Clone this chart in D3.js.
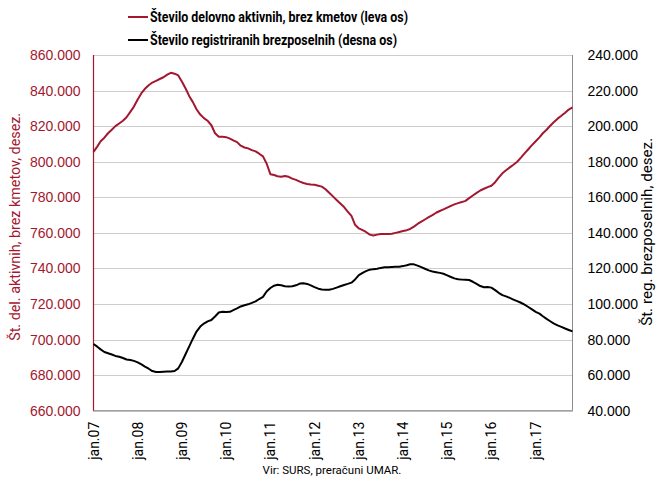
<!DOCTYPE html>
<html>
<head>
<meta charset="utf-8">
<script src="https://cdn.jsdelivr.net/npm/d3@7"></script>
<style>
  body { margin: 0; background: #fff; }
  svg { display: block; font-family: Roboto, "Noto Sans", sans-serif; }
</style>
</head>
<body>
<div id="chart"></div>
<script>
const W = 656, H = 481;
const margin = { top: 55, right: 83.5, bottom: 70.3, left: 93.5 },
    width = W - margin.left - margin.right,
    height = H - margin.top - margin.bottom;

const RED = "#a3172f";

// monthly, jan.07 .. nov.17
const startMonth = new Date(2007, 0, 1);

// Število delovno aktivnih, brez kmetov (thousands, left axis)
const aktivni = [
  805.5, 808.5, 811.5, 813.5, 816, 818, 820, 821.5, 823, 825, 828, 831,
  835, 838.5, 841, 843, 844.5, 845.5, 846.5, 847.5, 849, 850, 849.5, 848.5,
  845, 841, 837, 833.5, 829.5, 826.5, 824.5, 823, 820.5, 816, 814, 814,
  813.8, 813, 812, 811, 809, 808, 807.5, 806.5, 805.8, 804.5, 803, 799,
  793, 792.5, 791.8, 791.5, 792, 791.5, 790.5, 789.8, 788.8, 788, 787.5, 787.2,
  787, 786.5, 786, 784.5, 782.5, 780.5, 778.5, 776.5, 774.5, 772, 769.5, 764.5,
  762.5, 761.5, 760.5, 759, 758.5, 759, 759.3, 759.3, 759.4, 759.5, 760, 760.5,
  761, 761.5, 762.2, 763.5, 765, 766.3, 767.5, 768.8, 770, 771.3, 772.3, 773.2,
  774.2, 775.2, 776, 776.7, 777.3, 778, 779.5, 781, 782.5, 783.8, 784.8, 785.7,
  786.5, 788.5, 791, 793.5, 795.2, 796.8, 798.3, 800, 802.3, 804.7, 807, 809.3,
  811.5, 813.7, 816, 818, 820.2, 822.3, 824.2, 825.8, 827.5, 829.3, 830.5
];

// Število registriranih brezposelnih (thousands, right axis)
const brezposelni = [
  77.5, 76, 74.5, 73, 72.3, 71.6, 70.8, 70.3, 69.6, 68.8, 68.5, 68,
  67.2, 66, 64.8, 63.6, 62.3, 61.8, 61.7, 61.9, 62, 62, 62.3, 63.8,
  67.5, 72, 76, 80.5, 84.5, 87.3, 89, 90.2, 91, 93, 95.2, 95.6,
  95.5, 95.6, 96.5, 97.5, 98.6, 99.3, 99.8, 100.6, 101.5, 102.8, 104, 107,
  109, 110.3, 110.8, 110.5, 110, 109.8, 110, 110.5, 111.5, 111.6, 111.3, 110.5,
  109.5, 108.6, 108.1, 108, 108, 108.5, 109.2, 110, 110.7, 111.3, 112, 113.8,
  116.2, 117.5, 118.5, 119.3, 119.6, 119.8, 120.3, 120.6, 120.7, 120.8, 120.9, 121,
  121.3, 121.8, 122.3, 122.3, 121.6, 120.7, 119.8, 118.9, 118.3, 117.9, 117.5, 117,
  116.1, 115.2, 114.4, 113.9, 113.7, 113.6, 113.5, 112.5, 111.3, 110.1, 109.4, 109.5,
  109.2, 107.8, 106.3, 105, 104.3, 103.4, 102.5, 101.6, 100.7, 99.6, 98.3, 97,
  95.6, 94.6, 93.1, 91.6, 90.3, 89, 88, 87.1, 86.2, 85.4, 84.6
];

const xLabels = ["jan.07", "jan.08", "jan.09", "jan.10", "jan.11", "jan.12",
                 "jan.13", "jan.14", "jan.15", "jan.16", "jan.17"];
const leftTicks = [660, 680, 700, 720, 740, 760, 780, 800, 820, 840, 860];
const rightTicks = [40, 60, 80, 100, 120, 140, 160, 180, 200, 220, 240];

const legendItems = [
  { label: "Število delovno aktivnih, brez kmetov (leva os)", color: RED },
  { label: "Število registriranih brezposelnih (desna os)", color: "#000" }
];
const leftTitle = "Št. del. aktivnih, brez kmetov, desez.";
const rightTitle = "Št. reg. brezposelnih, desez.";
const sourceText = "Vir: SURS, preračuni UMAR.";

const dates = aktivni.map((d, i) => d3.timeMonth.offset(startMonth, i));

const x = d3.scaleTime()
    .domain([dates[0], dates[dates.length - 1]])
    .range([0, width]);

const yL = d3.scaleLinear().domain([660, 860]).range([height, 0]);
const yR = d3.scaleLinear().domain([40, 240]).range([height, 0]);

const fmt = v => d3.format(",")(v * 1000).replace(/,/g, ".");

const svg = d3.select("#chart").append("svg")
    .attr("width", W)
    .attr("height", H);

const g = svg.append("g")
    .attr("transform", "translate(" + margin.left + "," + margin.top + ")");

// gridlines
g.append("g")
    .selectAll("line")
    .data(leftTicks)
    .enter().append("line")
    .attr("x1", 0).attr("x2", width)
    .attr("y1", d => Math.round(yL(d)) + 0.5)
    .attr("y2", d => Math.round(yL(d)) + 0.5)
    .attr("stroke", "#9a9a9a")
    .attr("stroke-width", 1)
    .attr("stroke-dasharray", "1,1");

// frame: bottom + right grey, left red
g.append("line")
    .attr("x1", 0).attr("x2", width)
    .attr("y1", height).attr("y2", height)
    .attr("stroke", "#8c8c8c").attr("stroke-width", 1);
g.append("line")
    .attr("x1", width).attr("x2", width)
    .attr("y1", 0).attr("y2", height)
    .attr("stroke", "#8c8c8c").attr("stroke-width", 1);
g.append("line")
    .attr("x1", 0).attr("x2", 0)
    .attr("y1", 0).attr("y2", height)
    .attr("stroke", RED).attr("stroke-width", 1.2);

// left axis
const leftAxis = g.append("g")
    .call(d3.axisLeft(yL).tickValues(leftTicks).tickFormat(fmt).tickSize(0).tickPadding(13));
leftAxis.select(".domain").remove();
leftAxis.selectAll("text")
    .attr("fill", RED)
    .style("font-size", "14px");

// right axis
const rightAxis = g.append("g")
    .attr("transform", "translate(" + width + ",0)")
    .call(d3.axisRight(yR).tickValues(rightTicks).tickFormat(fmt).tickSize(0).tickPadding(15));
rightAxis.select(".domain").remove();
rightAxis.selectAll("text")
    .attr("fill", "#000")
    .style("font-size", "14px");

// x axis labels (rotated)
const xAxis = g.append("g")
    .attr("transform", "translate(0," + height + ")");
xAxis.selectAll("text")
    .data(xLabels)
    .enter().append("text")
    .attr("transform", (d, i) => "translate(" + (x(d3.timeYear.offset(startMonth, i)) + 5) + ",11) rotate(-90)")
    .attr("text-anchor", "end")
    .style("font-size", "14px")
    .attr("fill", "#000")
    .text(d => d);

// lines
const lineL = d3.line()
    .x((d, i) => x(dates[i]))
    .y(d => yL(d));
const lineR = d3.line()
    .x((d, i) => x(dates[i]))
    .y(d => yR(d));

g.append("path")
    .datum(brezposelni)
    .attr("fill", "none")
    .attr("stroke", "#000")
    .attr("stroke-width", 2)
    .attr("stroke-linejoin", "round")
    .attr("d", lineR);

g.append("path")
    .datum(aktivni)
    .attr("fill", "none")
    .attr("stroke", RED)
    .attr("stroke-width", 2)
    .attr("stroke-linejoin", "round")
    .attr("d", lineL);

// axis titles
svg.append("text")
    .attr("transform", "translate(20," + (margin.top + height / 2 - 6) + ") rotate(-90)")
    .attr("text-anchor", "middle")
    .attr("fill", RED)
    .style("font-size", "14px")
    .attr("textLength", 228)
    .attr("lengthAdjust", "spacingAndGlyphs")
    .text(leftTitle);

svg.append("text")
    .attr("transform", "translate(652," + (margin.top + height / 2 - 1) + ") rotate(-90)")
    .attr("text-anchor", "middle")
    .attr("fill", "#000")
    .style("font-size", "14px")
    .attr("textLength", 188)
    .attr("lengthAdjust", "spacingAndGlyphs")
    .text(rightTitle);

// legend
const legend = svg.append("g");
legendItems.forEach(function (d, i) {
    const yy = 17 + i * 23;
    legend.append("line")
        .attr("x1", 128).attr("x2", 148)
        .attr("y1", yy).attr("y2", yy)
        .attr("stroke", d.color)
        .attr("stroke-width", 2);
    legend.append("text")
        .attr("x", 150)
        .attr("y", yy + 5)
        .attr("fill", "#000")
        .style("font-size", "14.5px")
        .style("font-weight", "bold")
        .attr("textLength", i === 0 ? 258 : 247)
        .attr("lengthAdjust", "spacingAndGlyphs")
        .text(d.label);
});

// source
svg.append("text")
    .attr("x", 332)
    .attr("y", 474)
    .attr("text-anchor", "middle")
    .attr("fill", "#000")
    .style("font-size", "11.5px")
    .text(sourceText);
</script>
</body>
</html>
